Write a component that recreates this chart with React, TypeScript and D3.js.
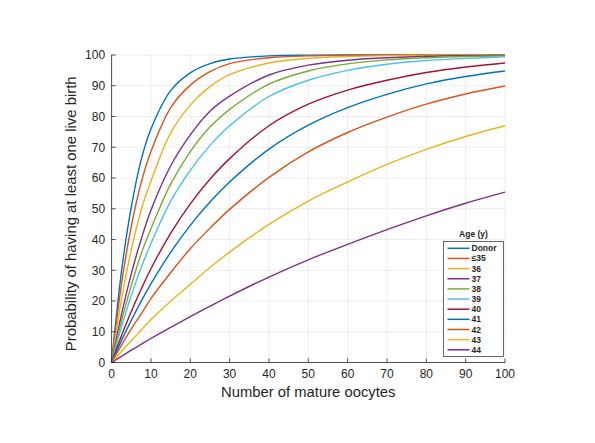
import React from "react";
import * as d3 from "d3";

const oocytes = [0, 2.5, 5, 7.5, 10, 15, 20, 25, 30, 40, 50, 60, 70, 80, 90, 100];

const ageLabels = ["Donor", "≤35", "36", "37", "38", "39", "40", "41", "42", "43", "44"];

const donor = [0, 29.5, 50.5, 65.8, 75.9, 88.4, 94.2, 97.2, 98.7, 99.7, 99.95, 100, 100, 100, 100, 100];
const age35 = [0, 25.4, 44.3, 58.4, 68.6, 82.8, 90.2, 94.6, 97.2, 99.1, 99.7, 99.9, 99.97, 100, 100, 100];
const age36 = [0, 20.4, 36.6, 49.5, 59, 74.6, 83.7, 89.7, 93.6, 97.4, 98.9, 99.5, 99.8, 99.9, 99.97, 100];
const age37 = [0, 15.6, 28.8, 40, 49.5, 63.9, 74, 81.7, 86.6, 93.5, 96.7, 98.3, 99.1, 99.6, 99.8, 99.9];
const age38 = [0, 13.5, 25, 35.3, 43.5, 58, 68.6, 76.6, 82.3, 90.5, 94.8, 97.1, 98.4, 99.1, 99.5, 99.7];
const age39 = [0, 11.5, 21.8, 30.8, 38.7, 52.4, 62.5, 70.6, 77, 86.5, 91.8, 95, 97, 98.2, 98.9, 99.4];
const age40 = [0, 8.7, 16.6, 23.8, 30.5, 42, 51.6, 59.6, 66.3, 77, 84, 88.6, 91.8, 94.3, 96.1, 97.4];
const age41 = [0, 7.1, 13.7, 19.9, 25.6, 35.8, 44.6, 52.2, 58.7, 69.4, 77.2, 82.9, 87.2, 90.6, 93, 94.8];
const age42 = [0, 5.6, 10.9, 15.8, 20.8, 29.2, 37, 43.7, 49.8, 60.2, 68.5, 74.8, 79.8, 84, 87.3, 89.9];
const age43 = [0, 3.6, 7.1, 10.5, 13.9, 19.9, 25.4, 30.9, 35.9, 44.9, 52.5, 58.7, 64.4, 69.3, 73.5, 77];
const age44 = [0, 2, 4, 5.9, 7.8, 11.4, 14.9, 18.3, 21.6, 27.8, 33.4, 38.4, 43.2, 47.7, 51.8, 55.4];

const seriesValues = [donor, age35, age36, age37, age38, age39, age40, age41, age42, age43, age44];

const colors = [
  "#0072BD", "#D95319", "#EDB120", "#7E2F8E", "#77AC30", "#4DBEEE",
  "#A2142F", "#0072BD", "#D95319", "#EDB120", "#7E2F8E",
];

const xTicks = [0, 10, 20, 30, 40, 50, 60, 70, 80, 90, 100];
const yTicks = [0, 10, 20, 30, 40, 50, 60, 70, 80, 90, 100];

const W = 595;
const H = 443;
const left = 111.6;
const right = 505;
const top = 55;
const bottom = 362.5;
const font = "'Liberation Sans', Arial, Helvetica, sans-serif";
const axisColor = "#262626";

export default function App() {
  const x = d3.scaleLinear().domain([0, 100]).range([left, right]);
  const y = d3.scaleLinear().domain([0, 100]).range([bottom, top]);
  const line = d3
    .line<number>()
    .x((_, i) => x(oocytes[i]))
    .y((d) => y(Math.min(100, d)))
    .curve(d3.curveCatmullRom.alpha(0.5));

  const legX = 443.5;
  const legY = 241.5;
  const legW = 60;
  const legH = 115;
  const rowH = 10.15;

  return (
    <svg width={W} height={H} style={{ position: "absolute", left: 0, top: 0 }}>
      <rect width={W} height={H} fill="#fff" />
      {/* grid */}
      {xTicks.map((t) => (
        <line key={"gx" + t} x1={x(t)} x2={x(t)} y1={top} y2={bottom} stroke="#e8e8e8" strokeWidth={0.8} />
      ))}
      {yTicks.map((t) => (
        <line key={"gy" + t} x1={left} x2={right} y1={y(t)} y2={y(t)} stroke="#e8e8e8" strokeWidth={0.8} />
      ))}
      {/* curves */}
      {seriesValues.map((vals, i) => (
        <path key={"s" + i} d={line(vals) || ""} fill="none" stroke={colors[i]} strokeWidth={1.4} />
      ))}
      {/* axes */}
      <line x1={left} x2={right} y1={bottom} y2={bottom} stroke={axisColor} strokeWidth={0.8} />
      <line x1={left} x2={left} y1={top} y2={bottom} stroke={axisColor} strokeWidth={0.8} />
      {xTicks.map((t) => (
        <g key={"xt" + t}>
          <line x1={x(t)} x2={x(t)} y1={bottom} y2={bottom - 4} stroke={axisColor} strokeWidth={0.8} />
          <text x={x(t)} y={bottom + 15.5} textAnchor="middle" fontFamily={font} fontSize={12} fill={axisColor}>
            {t}
          </text>
        </g>
      ))}
      {yTicks.map((t) => (
        <g key={"yt" + t}>
          <line x1={left} x2={left + 4} y1={y(t)} y2={y(t)} stroke={axisColor} strokeWidth={0.8} />
          <text x={left - 6.5} y={y(t) + 4.3} textAnchor="end" fontFamily={font} fontSize={12} fill={axisColor}>
            {t}
          </text>
        </g>
      ))}
      <text x={(left + right) / 2} y={397} textAnchor="middle" fontFamily={font} fontSize={14.8} fill={axisColor}>
        Number of mature oocytes
      </text>
      <text
        transform={`translate(76,${(top + bottom) / 2 + 5}) rotate(-90)`}
        textAnchor="middle"
        fontFamily={font}
        fontSize={14.9}
        fill={axisColor}
      >
        Probability of having at least one live birth
      </text>
      {/* legend */}
      <text x={legX + legW / 2} y={legY - 5} textAnchor="middle" fontFamily={font} fontSize={8.5} fontWeight="bold" fill={axisColor}>
        Age (y)
      </text>
      <rect x={legX} y={legY} width={legW} height={legH} fill="#fff" stroke="#444" strokeWidth={0.8} />
      {ageLabels.map((lab, i) => {
        const cy = legY + 6.8 + i * rowH;
        return (
          <g key={"lg" + i}>
            <line x1={legX + 4} x2={legX + 26} y1={cy} y2={cy} stroke={colors[i]} strokeWidth={1.5} />
            <text x={legX + 28} y={cy + 3} fontFamily={font} fontSize={8.5} fontWeight="bold" fill={axisColor}>
              {lab}
            </text>
          </g>
        );
      })}
    </svg>
  );
}
